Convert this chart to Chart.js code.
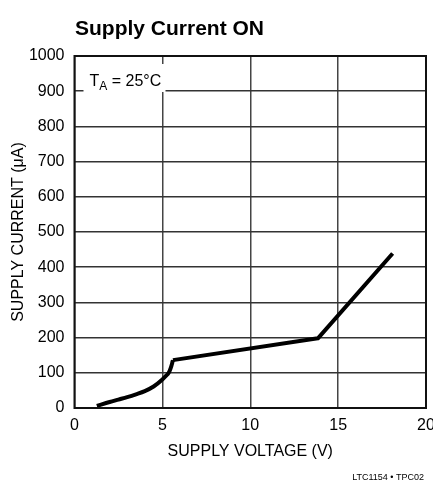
<!DOCTYPE html>
<html>
<head>
<meta charset="utf-8">
<script src="https://cdn.jsdelivr.net/npm/chart.js@4.4.1/dist/chart.umd.min.js"></script>
<style>
  html, body { margin: 0; padding: 0; background: #fff; }
  #wrap { width: 433px; height: 491px; }
</style>
</head>
<body>
<div id="wrap"><canvas id="chart" width="433" height="491"></canvas></div>
<script>
// supply voltage (V) vs supply current (uA)
const voltage = [1.27, 2.0, 2.5, 3.0, 3.5, 4.0, 4.5, 5.0, 5.2, 5.36, 5.45, 5.51, 5.56, 5.6, 13.85, 18.1];
const current = [6, 17, 24, 31, 39, 48, 61, 81, 91, 100, 110, 119, 128, 136, 198, 439];
// the low-voltage part is a smooth curve, the rest is straight segments
const curveEnd = 13;

const xTicks = [0, 5, 10, 15, 20];
const yTicks = [0, 100, 200, 300, 400, 500, 600, 700, 800, 900, 1000];

const chartTitle = "Supply Current ON";
const noteMain = "T";
const noteSub = "A";
const noteRest = " = 25°C";
const footer = "LTC1154 • TPC02";

const sans = "'Liberation Sans', Arial, sans-serif";

const points = voltage.map((v, i) => ({ x: v, y: current[i] }));

const lineStyle = {
  borderColor: "#000",
  borderWidth: 4,
  pointRadius: 0,
  borderCapStyle: "butt",
  borderJoinStyle: "round",
  fill: false
};

const decor = {
  id: "decor",
  beforeDatasetsDraw(chart) {
    const ctx = chart.ctx;
    const a = chart.chartArea;
    ctx.save();
    // label box over the grid
    ctx.fillStyle = "#fff";
    ctx.fillRect(a.left + 9, a.top + 8, 82, 28);
    ctx.fillStyle = "#000";
    ctx.textBaseline = "alphabetic";
    ctx.font = "16px " + sans;
    let x = a.left + 15;
    const base = a.top + 30;
    ctx.fillText(noteMain, x, base);
    x += ctx.measureText(noteMain).width;
    ctx.font = "12px " + sans;
    ctx.fillText(noteSub, x, base + 4);
    x += ctx.measureText(noteSub).width;
    ctx.font = "16px " + sans;
    ctx.fillText(noteRest, x, base);
    ctx.restore();
  },
  afterDraw(chart) {
    const ctx = chart.ctx;
    const a = chart.chartArea;
    ctx.save();
    ctx.strokeStyle = "#111";
    ctx.lineWidth = 2;
    ctx.strokeRect(a.left, a.top, a.right - a.left, a.bottom - a.top);
    ctx.fillStyle = "#000";
    ctx.font = "bold 21px " + sans;
    ctx.textBaseline = "alphabetic";
    ctx.textAlign = "left";
    ctx.fillText(chartTitle, 75, 35);
    ctx.font = "9px " + sans;
    ctx.textAlign = "right";
    ctx.fillText(footer, 424, 480);
    ctx.restore();
  }
};

new Chart(document.getElementById("chart"), {
  type: "line",
  data: {
    datasets: [
      Object.assign({ data: points.slice(0, curveEnd + 1), cubicInterpolationMode: "monotone" }, lineStyle),
      Object.assign({ data: points.slice(curveEnd), tension: 0 }, lineStyle)
    ]
  },
  options: {
    responsive: false,
    animation: false,
    layout: { padding: { top: 56, right: 7, bottom: 0, left: 0 } },
    plugins: { legend: { display: false }, tooltip: { enabled: false } },
    scales: {
      x: {
        type: "linear",
        min: 0,
        max: 20,
        afterBuildTicks: (s) => { s.ticks = xTicks.map((v) => ({ value: v })); },
        afterFit: (s) => { s.height = 83; s.paddingLeft = 0; s.paddingRight = 0; },
        grid: { color: "#444", lineWidth: 1.5, drawTicks: false },
        border: { display: false },
        ticks: { color: "#000", padding: 8, font: { family: sans, size: 16 }, callback: (v) => String(v) },
        title: {
          display: true,
          text: "SUPPLY VOLTAGE (V)",
          color: "#000",
          font: { family: sans, size: 16 },
          padding: { top: 0, bottom: 30 }
        }
      },
      y: {
        type: "linear",
        min: 0,
        max: 1000,
        afterBuildTicks: (s) => { s.ticks = yTicks.map((v) => ({ value: v })); },
        afterFit: (s) => { s.width = 74.5; s.paddingTop = 0; s.paddingBottom = 0; },
        grid: { color: "#333", lineWidth: 1.5, drawTicks: false },
        border: { display: false },
        ticks: { color: "#000", padding: 10, font: { family: sans, size: 16 }, callback: (v) => String(v) },
        title: {
          display: true,
          text: "SUPPLY CURRENT (μA)",
          color: "#000",
          font: { family: sans, size: 16 },
          padding: { top: 9, bottom: 0 }
        }
      }
    }
  },
  plugins: [decor]
});
</script>
</body>
</html>
